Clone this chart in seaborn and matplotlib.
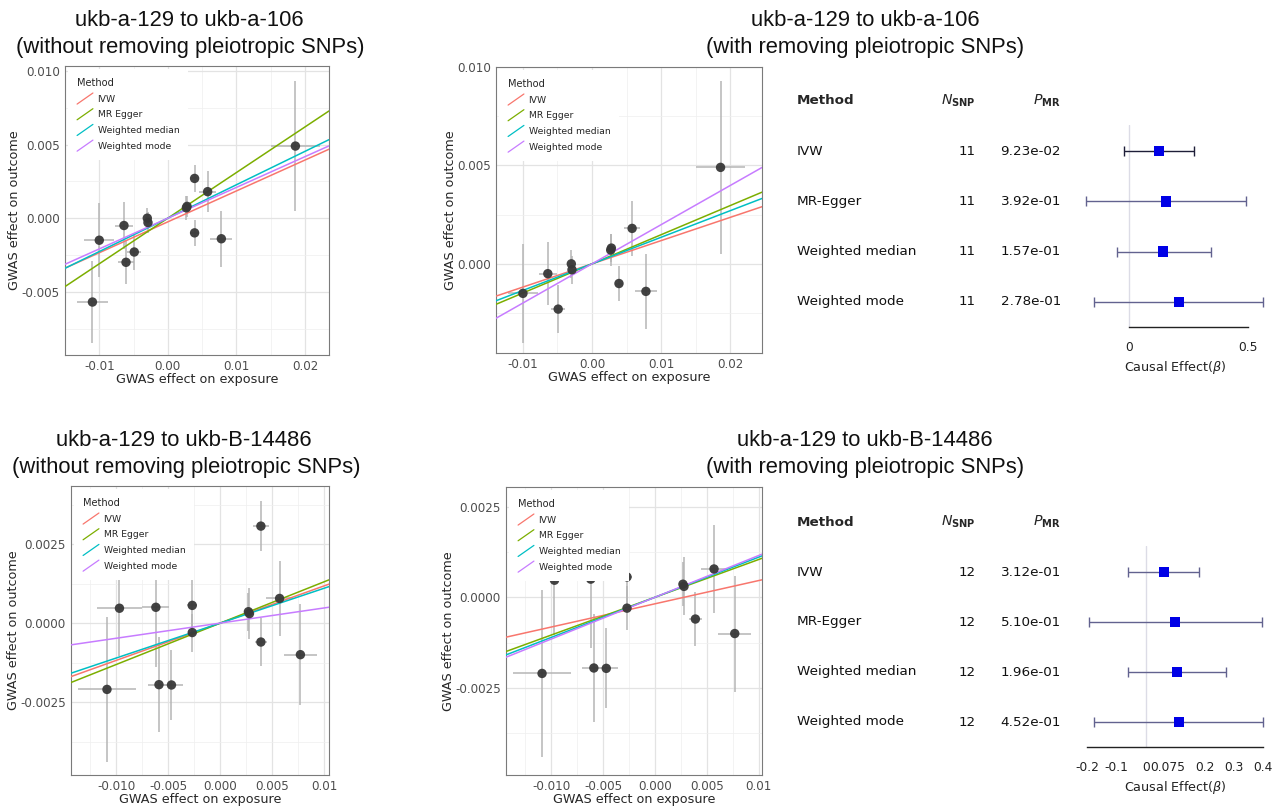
import matplotlib

matplotlib.use("Agg")
import matplotlib.pyplot as plt
import matplotlib.transforms as mtransforms
import numpy as np
import pandas as pd
import seaborn as sns
from matplotlib.legend_handler import HandlerBase
from matplotlib.lines import Line2D

# ---- data -------------------------------------------------------------------
METHODS = ["IVW", "MR Egger", "Weighted median", "Weighted mode"]
METHOD_COLORS = ["#F8766D", "#7CAE00", "#00BFC4", "#C77CFF"]
FOREST_METHODS = ["IVW", "MR-Egger", "Weighted median", "Weighted mode"]

# ukb-a-129 -> ukb-a-106 (14 SNPs, 3 pleiotropic ones removed in the right panel)
a106_bx = [-0.0110, -0.0100, -0.0064, -0.0061, -0.0049, -0.0030, -0.0029,
           0.0027, 0.0028, 0.0039, 0.0039, 0.0058, 0.0078, 0.0186]
a106_by = [-0.0057, -0.0015, -0.0005, -0.0030, -0.0023, 0.0000, -0.0003,
           0.0007, 0.0008, 0.0027, -0.0010, 0.0018, -0.0014, 0.0049]
a106_sex = [0.0023, 0.0022, 0.0013, 0.0011, 0.0010, 0.0004, 0.0004,
            0.0004, 0.0004, 0.0004, 0.0006, 0.0012, 0.0016, 0.0036]
a106_sey = [0.0028, 0.0025, 0.0016, 0.0015, 0.0012, 0.0007, 0.0007,
            0.0008, 0.0007, 0.0009, 0.0009, 0.0014, 0.0019, 0.0044]
a106_pleio = [0, 3, 9]

a106_all_slope = [0.210, 0.310, 0.227, 0.209]
a106_all_icpt = [-0.00025, 0.0, 0.0, 0.0]
a106_kept_slope = [0.118, 0.148, 0.135, 0.199]
a106_kept_icpt = [0.0, 0.0, 0.0, 0.0]

# ukb-a-129 -> ukb-B-14486 (13 SNPs, 1 pleiotropic removed)
b14486_bx = [-0.0109, -0.0097, -0.0062, -0.0059, -0.0047, -0.0027, -0.0027,
             0.0027, 0.0028, 0.0039, 0.0039, 0.0057, 0.0077]
b14486_by = [-0.0021, 0.00047, 0.0005, -0.00195, -0.00196, 0.00056, -0.0003,
             0.00036, 0.0003, 0.00307, -0.0006, 0.00078, -0.0010]
b14486_sex = [0.0028, 0.0022, 0.0013, 0.0011, 0.0011, 0.0005, 0.0004,
              0.0004, 0.0004, 0.0008, 0.0006, 0.0013, 0.0016]
b14486_sey = [0.0023, 0.0015, 0.0019, 0.0015, 0.0011, 0.0009, 0.0006,
              0.0006, 0.0008, 0.0008, 0.00075, 0.0012, 0.0016]
b14486_pleio = [9]

b14486_all_slope = [0.118, 0.131, 0.1105, 0.048]
b14486_all_icpt = [0.0, 0.0, 0.0, 0.0]
b14486_kept_slope = [0.064, 0.104, 0.1105, 0.115]
b14486_kept_icpt = [-0.00018, 0.0, 0.0, 0.0]

# forest tables (after removing pleiotropic SNPs)
a106_nsnp = [11, 11, 11, 11]
a106_pval = ["9.23e-02", "3.92e-01", "1.57e-01", "2.78e-01"]
a106_beta = [0.126, 0.155, 0.143, 0.210]
a106_lo = [-0.021, -0.180, -0.050, -0.147]
a106_hi = [0.273, 0.490, 0.345, 0.563]

b14486_nsnp = [12, 12, 12, 12]
b14486_pval = ["3.12e-01", "5.10e-01", "1.96e-01", "4.52e-01"]
b14486_beta = [0.061, 0.099, 0.106, 0.113]
b14486_lo = [-0.061, -0.194, -0.061, -0.178]
b14486_hi = [0.181, 0.396, 0.273, 0.400]

TITLE_TOP = "ukb-a-129 to ukb-a-106"
TITLE_BOTTOM = "ukb-a-129 to ukb-B-14486"
SUB_WITHOUT = "(without removing pleiotropic SNPs)"
SUB_WITH = "(with removing pleiotropic SNPs)"


# ---- helpers ----------------------------------------------------------------
class DiagonalKey(HandlerBase):
    # ggplot-style slanted key for abline legends
    def create_artists(self, legend, orig_handle, xdescent, ydescent, width, height, fontsize, trans):
        line = Line2D(
            [-xdescent, -xdescent + width],
            [-ydescent - 0.35 * height, -ydescent + 1.35 * height],
            color=orig_handle.get_color(),
            lw=orig_handle.get_linewidth(),
            transform=trans,
        )
        return [line]


def px_rect(left, top, right, bottom, W=1283, H=806):
    return [left / W, 1 - bottom / H, (right - left) / W, (bottom - top) / H]


def mr_scatter(ax, bx, by, sex, sey, drop, slopes, icpts, xlim, ylim,
               xticks, xlabels, xminor, yticks, ylabels, yminor):
    snp = pd.DataFrame({"bx": bx, "by": by, "sex": sex, "sey": sey})
    snp = snp.drop(index=drop)

    ax.set_xlim(xlim)
    ax.set_ylim(ylim)
    ax.set_xticks(xticks, xlabels)
    ax.set_xticks(xminor, minor=True)
    ax.set_yticks(yticks, ylabels)
    ax.set_yticks(yminor, minor=True)
    ax.grid(True, which="major", color="#e3e3e3", lw=0.9, zorder=0)
    ax.grid(True, which="minor", color="#efefef", lw=0.5, zorder=0)
    ax.set_axisbelow(True)

    ax.errorbar(snp["bx"], snp["by"], xerr=snp["sex"], yerr=snp["sey"], fmt="none",
                ecolor="#b5b5b5", elinewidth=1.1, zorder=2)
    sns.scatterplot(data=snp, x="bx", y="by", color="#383838", s=46, edgecolor="none",
                    alpha=0.95, ax=ax, zorder=4)

    rows = []
    for m, a, b in zip(METHODS, slopes, icpts):
        for x in xlim:
            rows.append({"x": x, "y": a * x + b, "Method": m})
    lines = pd.DataFrame(rows)
    sns.lineplot(data=lines, x="x", y="y", hue="Method", hue_order=METHODS,
                 palette=METHOD_COLORS, lw=1.1, legend=False, ax=ax, zorder=3)

    handles = [Line2D([], [], color=c, lw=0.9) for c in METHOD_COLORS]
    leg = ax.legend(handles, METHODS, title="Method", loc="upper left",
                    handler_map={Line2D: DiagonalKey()}, fontsize=6.7, title_fontsize=7.1,
                    frameon=True, facecolor="white", edgecolor="none", framealpha=1,
                    fancybox=False, handlelength=1.7, handletextpad=0.5,
                    labelspacing=0.72, borderpad=0.95, borderaxespad=0.35)
    leg._legend_box.align = "left"
    leg.set_zorder(6)

    ax.set_xlabel("GWAS effect on exposure", fontsize=9.2, labelpad=0)
    ax.set_ylabel("GWAS effect on outcome", fontsize=9.2, labelpad=0.3)
    ax.tick_params(axis="both", which="major", labelsize=8.6, colors="#4d4d4d",
                   length=2.5, width=0.8, pad=1.2)
    ax.tick_params(axis="both", which="minor", length=0)
    for s in ax.spines.values():
        s.set_color("#7a7a7a")
        s.set_linewidth(0.8)


def forest(fig, ax, nsnp, pval, beta, lo, hi, xlim, ticks, ticklabels, minor, ci_colors):
    df = pd.DataFrame({"method": FOREST_METHODS, "row": range(4), "beta": beta, "lo": lo, "hi": hi})
    ax.axvline(0, color="#dcdce6", lw=1.0, zorder=0)
    for _, r in df.iterrows():
        ax.errorbar(r["beta"], r["row"], xerr=[[r["beta"] - r["lo"]], [r["hi"] - r["beta"]]],
                    fmt="none", ecolor=ci_colors[r["row"]], elinewidth=1.0, capsize=3.5,
                    capthick=1.0, zorder=2)
    sns.scatterplot(data=df, x="beta", y="row", marker="s", color="#0000e6", s=55,
                    edgecolor="none", ax=ax, zorder=4)
    ax.set_xlim(xlim)
    ax.set_ylim(3.5, -0.52)
    ax.set_yticks([])
    ax.set_ylabel("")
    for side in ["left", "top", "right"]:
        ax.spines[side].set_visible(False)
    ax.spines["bottom"].set_bounds(ticks[0], ticks[-1])
    ax.spines["bottom"].set_color("#222222")
    ax.spines["bottom"].set_linewidth(1.0)
    ax.set_xticks(ticks, ticklabels)
    if minor is not None:
        ax.set_xticks(minor, minor=True)
    ax.tick_params(axis="x", which="both", direction="in", length=6, width=0.9,
                   colors="#222222", labelsize=8.8, pad=10)
    ax.set_xlabel(r"Causal Effect$(\beta)$", fontsize=9.2, labelpad=4, color="#222222")
    ax.grid(False)

    tr = mtransforms.blended_transform_factory(fig.transFigure, ax.transData)
    fs = 9.7
    ax.text(797 / 1283, -1, "Method", transform=tr, fontsize=fs, fontweight="bold", va="center")
    ax.text(976 / 1283, -1, r"$N_{\mathbf{SNP}}$", transform=tr, fontsize=fs + 0.5, ha="right", va="center")
    ax.text(1061 / 1283, -1, r"$P_{\mathbf{MR}}$", transform=tr, fontsize=fs + 0.5, ha="right", va="center")
    for i, m in enumerate(FOREST_METHODS):
        ax.text(797 / 1283, i, m, transform=tr, fontsize=fs, va="center", color="#111111")
        ax.text(976 / 1283, i, str(nsnp[i]), transform=tr, fontsize=fs, ha="right", va="center", color="#111111")
        ax.text(1061 / 1283, i, pval[i], transform=tr, fontsize=fs, ha="right", va="center", color="#111111")


# ---- figure -----------------------------------------------------------------
sns.set_style("white")
plt.rcParams["font.family"] = ["DejaVu Sans"]

fig = plt.figure(figsize=(12.83, 8.06), dpi=100)

ax_tl = fig.add_axes(px_rect(65, 66, 329, 355))
mr_scatter(ax_tl, a106_bx, a106_by, a106_sex, a106_sey, [], a106_all_slope, a106_all_icpt,
           (-0.0150, 0.0235), (-0.0093, 0.01034),
           [-0.01, 0.0, 0.01, 0.02], ["-0.01", "0.00", "0.01", "0.02"], [-0.005, 0.005, 0.015],
           [-0.005, 0.0, 0.005, 0.010], ["-0.005", "0.000", "0.005", "0.010"],
           [-0.0075, -0.0025, 0.0025, 0.0075])

ax_tm = fig.add_axes(px_rect(496, 67, 762, 353))
mr_scatter(ax_tm, a106_bx, a106_by, a106_sex, a106_sey, a106_pleio, a106_kept_slope, a106_kept_icpt,
           (-0.0139, 0.0246), (-0.00453, 0.0100),
           [-0.01, 0.0, 0.01, 0.02], ["-0.01", "0.00", "0.01", "0.02"], [-0.005, 0.005, 0.015],
           [0.0, 0.005, 0.010], ["0.000", "0.005", "0.010"],
           [-0.0025, 0.0025, 0.0075])

ax_bl = fig.add_axes(px_rect(71, 486, 329, 775))
mr_scatter(ax_bl, b14486_bx, b14486_by, b14486_sex, b14486_sey, [], b14486_all_slope, b14486_all_icpt,
           (-0.01436, 0.01045), (-0.00481, 0.00434),
           [-0.01, -0.005, 0.0, 0.005, 0.01], ["-0.010", "-0.005", "0.000", "0.005", "0.01"],
           [-0.0125, -0.0075, -0.0025, 0.0025, 0.0075],
           [-0.0025, 0.0, 0.0025], ["-0.0025", "0.0000", "0.0025"],
           [-0.00375, -0.00125, 0.00125, 0.00375])

ax_bm = fig.add_axes(px_rect(506, 487, 762, 775))
mr_scatter(ax_bm, b14486_bx, b14486_by, b14486_sex, b14486_sey, b14486_pleio, b14486_kept_slope,
           b14486_kept_icpt,
           (-0.01438, 0.01033), (-0.0049, 0.00304),
           [-0.01, -0.005, 0.0, 0.005, 0.01], ["-0.010", "-0.005", "0.000", "0.005", "0.01"],
           [-0.0125, -0.0075, -0.0025, 0.0025, 0.0075],
           [-0.0025, 0.0, 0.0025], ["-0.0025", "0.0000", "0.0025"],
           [-0.00375, -0.00125, 0.00125])

ax_ft = fig.add_axes(px_rect(1080, 125, 1270, 327))
forest(fig, ax_ft, a106_nsnp, a106_pval, a106_beta, a106_lo, a106_hi,
       (-0.2059, 0.5924), [0, 0.5], ["0", "0.5"], None,
       ["#1e1e38", "#62628f", "#62628f", "#62628f"])

ax_fb = fig.add_axes(px_rect(1080, 546, 1270, 747))
forest(fig, ax_fb, b14486_nsnp, b14486_pval, b14486_beta, b14486_lo, b14486_hi,
       (-0.225, 0.4228), [-0.2, -0.1, 0, 0.075, 0.2, 0.3, 0.4],
       ["-0.2", "-0.1", "0", "0.075", "0.2", "0.3", "0.4"],
       np.linspace(-0.2, 0.4, 25), ["#62628f"] * 4)

title_font = dict(fontsize=15.8, family=["Liberation Sans", "DejaVu Sans"], ha="center",
                  va="center", color="#111111")
fig.text(189 / 1283, 1 - 21 / 806, TITLE_TOP, **title_font)
fig.text(190 / 1283, 1 - 47 / 806, SUB_WITHOUT, **title_font)
fig.text(865 / 1283, 1 - 21 / 806, TITLE_TOP, **title_font)
fig.text(865 / 1283, 1 - 47 / 806, SUB_WITH, **title_font)
fig.text(184 / 1283, 1 - 441 / 806, TITLE_BOTTOM, **title_font)
fig.text(186 / 1283, 1 - 467 / 806, SUB_WITHOUT, **title_font)
fig.text(865 / 1283, 1 - 441 / 806, TITLE_BOTTOM, **title_font)
fig.text(865 / 1283, 1 - 467 / 806, SUB_WITH, **title_font)

fig.savefig("out.png", dpi=100, facecolor="white")
